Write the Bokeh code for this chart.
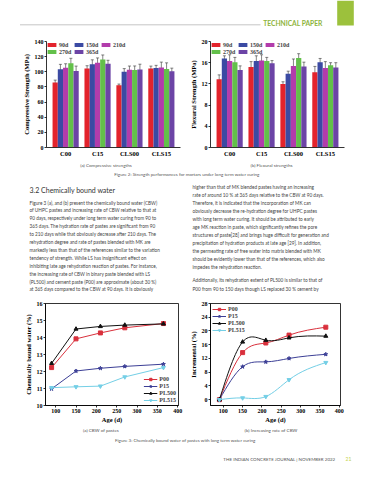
import numpy as np
from bokeh.plotting import figure
from bokeh.models import Range1d, FactorRange, Whisker, TeeHead, ColumnDataSource, FixedTicker
from bokeh.transform import dodge
from bokeh.layouts import column, row
from bokeh.embed import file_html
from bokeh.resources import INLINE
from bokeh.core.properties import value

SERIF = "Liberation Serif"
SANS = "Lato"

# ---------------- Figure 2 data ----------------
categories = ["C00", "C15", "CLS00", "CLS15"]
ages = ["90d", "150d", "210d", "270d", "365d"]
age_colors = ["#e3232c", "#3b4aa3", "#b23cab", "#63c04a", "#6c44a6"]

comp_90 = [85.8, 104.2, 82.3, 104.5]
comp_150 = [103.3, 109.8, 100.2, 105.0]
comp_210 = [105.3, 111.8, 102.6, 105.8]
comp_270 = [111.3, 116.2, 102.2, 103.8]
comp_365 = [101.0, 110.7, 103.0, 100.8]
comp_err_90 = [3.2, 3.8, 1.5, 3.0]
comp_err_150 = [6.5, 6.0, 4.0, 3.5]
comp_err_210 = [5.3, 6.5, 5.0, 7.0]
comp_err_270 = [6.5, 6.0, 5.5, 8.0]
comp_err_365 = [6.5, 4.5, 7.0, 4.0]

flex_90 = [12.9, 15.2, 12.0, 14.2]
flex_150 = [16.8, 16.3, 13.9, 16.1]
flex_210 = [16.3, 16.4, 15.4, 15.0]
flex_270 = [16.1, 16.3, 16.9, 15.5]
flex_365 = [14.6, 15.9, 15.3, 15.1]
flex_err_90 = [0.8, 1.0, 0.4, 1.1]
flex_err_150 = [0.5, 1.0, 0.5, 0.7]
flex_err_210 = [1.2, 1.1, 1.3, 1.2]
flex_err_270 = [0.9, 0.7, 0.8, 0.5]
flex_err_365 = [0.8, 0.5, 0.8, 0.9]

comp_ticks = [0, 20, 40, 60, 80, 100, 120, 140]
flex_ticks = [0, 4, 8, 12, 16, 20]

# ---------------- Figure 3 data ----------------
age_days = [90, 150, 210, 270, 365]
pastes = ["P00", "P15", "PL500", "PL515"]
paste_colors = ["#d9303c", "#3c3f96", "#111111", "#74cfe6"]
paste_markers = ["square", "star", "triangle", "inverted_triangle"]

cbw_p00 = [12.23, 13.92, 14.27, 14.57, 14.82]
cbw_p15 = [10.98, 12.03, 12.19, 12.30, 12.43]
cbw_pl500 = [12.48, 14.50, 14.65, 14.73, 14.80]
cbw_pl515 = [11.05, 11.10, 11.14, 11.68, 12.23]

inc_p00 = [0.0, 13.7, 16.5, 18.8, 21.1]
inc_p15 = [0.0, 9.6, 11.0, 12.0, 13.2]
inc_pl500 = [0.0, 16.8, 17.3, 18.0, 18.5]
inc_pl515 = [0.0, 0.5, 0.9, 5.8, 10.8]

age_ticks = [100, 150, 200, 250, 300, 350, 400]
cbw_ticks = [10, 11, 12, 13, 14, 15, 16]
inc_ticks = [0, 4, 8, 12, 16, 20, 24, 28]

# ---------------- Texts ----------------
header_text = "TECHNICAL PAPER"
caption_2a = "(a) Compressive strengths"
caption_2b = "(b) Flexural strengths"
caption_2 = "Figure 2: Strength performances for mortars under long term water curing"
heading = "3.2  Chemically bound water"
left_col_lines = [
    "Figure 3 (a), and (b) present the chemically bound water (CBW)",
    "of UHPC pastes and increasing rate of CBW relative to that at",
    "90 days, respectively under long term water curing from 90 to",
    "365 days. The hydration rate of pastes are significant from 90",
    "to 210 days while that obviously decrease after 210 days. The",
    "rehydration degree and rate of pastes blended with MK are",
    "markedly less than that of the references similar to the variation",
    "tendency of strength. While LS has insignificant effect on",
    "inhibiting late age rehydration reaction of pastes. For instance,",
    "the increasing rate of CBW in binary paste blended with LS",
    "(PL500) and cement paste (P00) are approximate (about 30 %)",
    "at 365 days compared to the CBW at 90 days. It is obviously",
]
right_col_lines = [
    "higher than that of MK blended pastes having an increasing",
    "rate of around 10 % at 365 days relative to the CBW at 90 days.",
    "Therefore, it is indicated that the incorporation of MK can",
    "obviously decrease the re-hydration degree for UHPC pastes",
    "with long term water curing. It should be attributed to early",
    "age MK reaction in paste, which significantly refines the pore",
    "structures of paste[28] and brings huge difficult for generation and",
    "precipitation of hydration products at late age [29]. In addition,",
    "the permeating rate of free water into matrix blended with MK",
    "should be evidently lower than that of the references, which also",
    "impedes the rehydration reaction.",
]
right_col_lines2 = [
    "Additionally, its rehydration extent of PL500 is similar to that of",
    "P00 from 90 to 150 days though LS replaced 30 % cement by",
]
caption_3a = "(a) CBW of pastes"
caption_3b = "(b) Increasing rate of CBW"
caption_3 = "Figure 3: Chemically bound water of pastes with long term water curing"
footer_text = "THE INDIAN CONCRETE JOURNAL | NOVEMBER 2022"
page_no = "21"


def style_axes(p, ylabel, yticks, xlabel=None, xticks=None):
    p.xgrid.visible = False
    p.ygrid.visible = False
    for ax in p.axis:
        ax.major_label_text_font = SERIF
        ax.major_label_text_font_style = "bold"
        ax.major_label_text_font_size = "6px"
        ax.major_label_text_color = "black"
        ax.axis_label_text_font = SERIF
        ax.axis_label_text_font_style = "bold"
        ax.axis_label_text_font_size = "6.5px"
        ax.axis_label_text_color = "black"
        ax.axis_line_width = 0.8
        ax.major_tick_line_width = 0.8
        ax.minor_tick_line_width = 0.6
        ax.major_tick_in = 0
        ax.major_tick_out = 2
        ax.minor_tick_in = 0
        ax.minor_tick_out = 1
        ax.major_label_standoff = 1
        ax.axis_label_standoff = 2
    y = p.yaxis[0]
    y.axis_label = ylabel
    y.ticker = FixedTicker(ticks=yticks)
    if xlabel is not None:
        x = p.xaxis[0]
        x.axis_label = xlabel
        x.axis_label_standoff = 0
        x.ticker = FixedTicker(ticks=xticks)


def bar_chart(width, height, y_end, yticks, ylabel, series, errs, borders):
    p = figure(width=width, height=height,
               x_range=FactorRange(*categories, range_padding=0.1, range_padding_units="absolute"),
               y_range=Range1d(0, y_end), output_backend="svg", toolbar_location=None,
               min_border_left=borders[0], min_border_right=borders[1],
               min_border_top=borders[2], min_border_bottom=borders[3])
    bw = 0.164
    offs = [-2 * bw, -bw, 0.0, bw, 2 * bw]
    for vals, err, age, col, off in zip(series, errs, ages, age_colors, offs):
        src = ColumnDataSource(dict(cat=categories, val=vals,
                                    up=[v + e for v, e in zip(vals, err)],
                                    lo=[v - e for v, e in zip(vals, err)]))
        p.vbar(x=dodge("cat", off, range=p.x_range), top="val", width=bw, source=src,
               fill_color=col, line_color=None, legend_label=age)
        w = Whisker(source=src, base=dodge("cat", off, range=p.x_range), upper="up", lower="lo",
                    line_color="#333333", line_width=0.6,
                    upper_head=TeeHead(size=3, line_color="#333333", line_width=0.6),
                    lower_head=TeeHead(size=3, line_color="#333333", line_width=0.6))
        p.add_layout(w)
    p.outline_line_color = None
    style_axes(p, ylabel, yticks)
    xa = p.xaxis[0]
    xa.major_tick_out = 0
    xa.major_label_standoff = 2
    xa.major_label_text_font_size = "6.5px"
    lg = p.legend[0]
    lg.orientation = "horizontal"
    lg.ncols = 3
    lg.location = "top_left"
    lg.margin = 0
    lg.padding = 1
    lg.spacing = 0
    lg.border_line_color = None
    lg.background_fill_alpha = 0
    lg.glyph_width = 11
    lg.glyph_height = 5
    lg.label_standoff = 2
    lg.label_height = 7
    lg.label_width = 14
    lg.label_text_font = SERIF
    lg.label_text_font_style = "bold"
    lg.label_text_font_size = "6px"
    lg.label_text_baseline = "middle"
    return p


def natural_slopes(x, y):
    x = np.asarray(x, float)
    y = np.asarray(y, float)
    n = len(x)
    h = np.diff(x)
    A = np.zeros((n, n))
    r = np.zeros(n)
    A[0, 0] = 1.0
    A[-1, -1] = 1.0
    for i in range(1, n - 1):
        A[i, i - 1] = h[i - 1]
        A[i, i] = 2 * (h[i - 1] + h[i])
        A[i, i + 1] = h[i]
        r[i] = 6 * ((y[i + 1] - y[i]) / h[i] - (y[i] - y[i - 1]) / h[i - 1])
    M = np.linalg.solve(A, r)
    s = np.zeros(n)
    for i in range(n - 1):
        s[i] = (y[i + 1] - y[i]) / h[i] - h[i] * (2 * M[i] + M[i + 1]) / 6
    s[-1] = (y[-1] - y[-2]) / h[-1] + h[-1] * (M[-2] + 2 * M[-1]) / 6
    return s


def line_chart(width, height, x_rng, y_rng, yticks, ylabel, series, borders, smooth, legend_loc):
    p = figure(width=width, height=height, x_range=Range1d(*x_rng), y_range=Range1d(*y_rng),
               output_backend="svg", toolbar_location=None,
               min_border_left=borders[0], min_border_right=borders[1],
               min_border_top=borders[2], min_border_bottom=borders[3])
    for vals, name, col, mk in zip(series, pastes, paste_colors, paste_markers):
        if smooth:
            x = np.asarray(age_days, float)
            y = np.asarray(vals, float)
            s = natural_slopes(x, y)
            h = np.diff(x)
            p.bezier(x0=x[:-1], y0=y[:-1], x1=x[1:], y1=y[1:],
                     cx0=x[:-1] + h / 3, cy0=y[:-1] + s[:-1] * h / 3,
                     cx1=x[1:] - h / 3, cy1=y[1:] - s[1:] * h / 3,
                     line_color=col, line_width=1.0, legend_label=name)
        else:
            p.line(age_days, vals, line_color=col, line_width=1.0, legend_label=name)
        p.scatter(age_days, vals, marker=mk, size=4, fill_color=col, line_color=col, legend_label=name)
    p.outline_line_color = "black"
    p.outline_line_width = 0.8
    style_axes(p, ylabel, yticks, "Age (d)", age_ticks)
    lg = p.legend[0]
    lg.location = legend_loc
    lg.margin = 2
    lg.padding = 1
    lg.spacing = 0
    lg.border_line_color = None
    lg.background_fill_alpha = 0
    lg.glyph_width = 14
    lg.glyph_height = 6
    lg.label_standoff = 2
    lg.label_height = 7
    lg.label_width = 14
    lg.label_text_font = SERIF
    lg.label_text_font_style = "bold"
    lg.label_text_font_size = "6px"
    lg.label_text_baseline = "middle"
    return p


def text_fig(w, h):
    p = figure(width=w, height=h, x_range=Range1d(0, w), y_range=Range1d(h, 0),
               output_backend="svg", toolbar_location=None,
               x_axis_location=None, y_axis_location=None,
               min_border_left=0, min_border_right=0, min_border_top=0, min_border_bottom=0)
    p.grid.visible = False
    p.outline_line_color = None
    return p


def put_text(p, x, y, txt, size, color="#444444", align="left", font=SANS, style="normal"):
    p.text(x=x, y=y, text=txt, text_font=value(font), text_font_size=size,
           text_color=color, text_align=align, text_baseline="middle", text_font_style=style)


PAGE_W = 372
W_L = 186
W_R = PAGE_W - W_L

# header (page y 0..34)
hdr = text_fig(PAGE_W, 34)
hdr.segment(x0=[19.5], y0=[24.3], x1=[260], y1=[24.3], line_color="#b8b8b8", line_width=0.8)
hdr.quad(left=[336.7], right=[353.3], top=[0], bottom=[25], fill_color="#9cc13c", line_color=None)
put_text(hdr, [262.7], [22.0], [header_text], "6.7px", color="#8db43b", style="bold")

# figure 2 (page y 34..161)
bar_a = bar_chart(W_L, 127, 140, comp_ticks, "Compressive Strength (MPa)",
                  [comp_90, comp_150, comp_210, comp_270, comp_365],
                  [comp_err_90, comp_err_150, comp_err_210, comp_err_270, comp_err_365],
                  (46, 6, 7, 14))
bar_b = bar_chart(W_R, 127, 20, flex_ticks, "Flexural Strength (MPa)",
                  [flex_90, flex_150, flex_210, flex_270, flex_365],
                  [flex_err_90, flex_err_150, flex_err_210, flex_err_270, flex_err_365],
                  (22, 28, 7, 9))

# middle text (page y 161..295)
mid = text_fig(PAGE_W, 134)
put_text(mid, [105.5], [3], [caption_2a], "4.6px", align="center", color="#555555")
put_text(mid, [271], [3], [caption_2b], "4.6px", align="center", color="#555555")
put_text(mid, [186.5], [13], [caption_2], "4.5px", align="center", color="#555555")
put_text(mid, [29], [28], [heading], "7px", color="#333333")
put_text(mid, [29] * len(left_col_lines), [41 + 7.9 * i for i in range(len(left_col_lines))],
         left_col_lines, "4.7px")
put_text(mid, [192] * len(right_col_lines), [25 + 8.0 * i for i in range(len(right_col_lines))],
         right_col_lines, "4.7px")
put_text(mid, [192] * len(right_col_lines2), [118 + 9.0 * i for i in range(len(right_col_lines2))],
         right_col_lines2, "4.7px")

# figure 3 (page y 295..425)
line_a = line_chart(W_L, 130, (75, 402), (10, 16), cbw_ticks, "Chemically bound water (%)",
                    [cbw_p00, cbw_p15, cbw_pl500, cbw_pl515], (45, 8, 7, 17), False, "bottom_right")
line_b = line_chart(W_R, 130, (67, 403), (-1.7, 28), inc_ticks, "Incremental (%)",
                    [inc_p00, inc_p15, inc_pl500, inc_pl515], (21, 32, 8, 18), True, "top_left")

# footer (page y 425..478)
foot = text_fig(PAGE_W, 53)
put_text(foot, [100.5], [4.7], [caption_3a], "4.6px", align="center", color="#555555")
put_text(foot, [270.5], [4.7], [caption_3b], "4.6px", align="center", color="#555555")
put_text(foot, [185], [14.5], [caption_3], "4.5px", align="center", color="#555555")
put_text(foot, [335], [33.7], [footer_text], "4.5px", align="right", color="#555555")
put_text(foot, [345], [33.7], [page_no], "5px", align="left", color="#c3d34a")

layout = column(hdr, row(bar_a, bar_b, spacing=0), mid, row(line_a, line_b, spacing=0), foot, spacing=0)

open("out.html", "w").write(file_html(layout, INLINE))
